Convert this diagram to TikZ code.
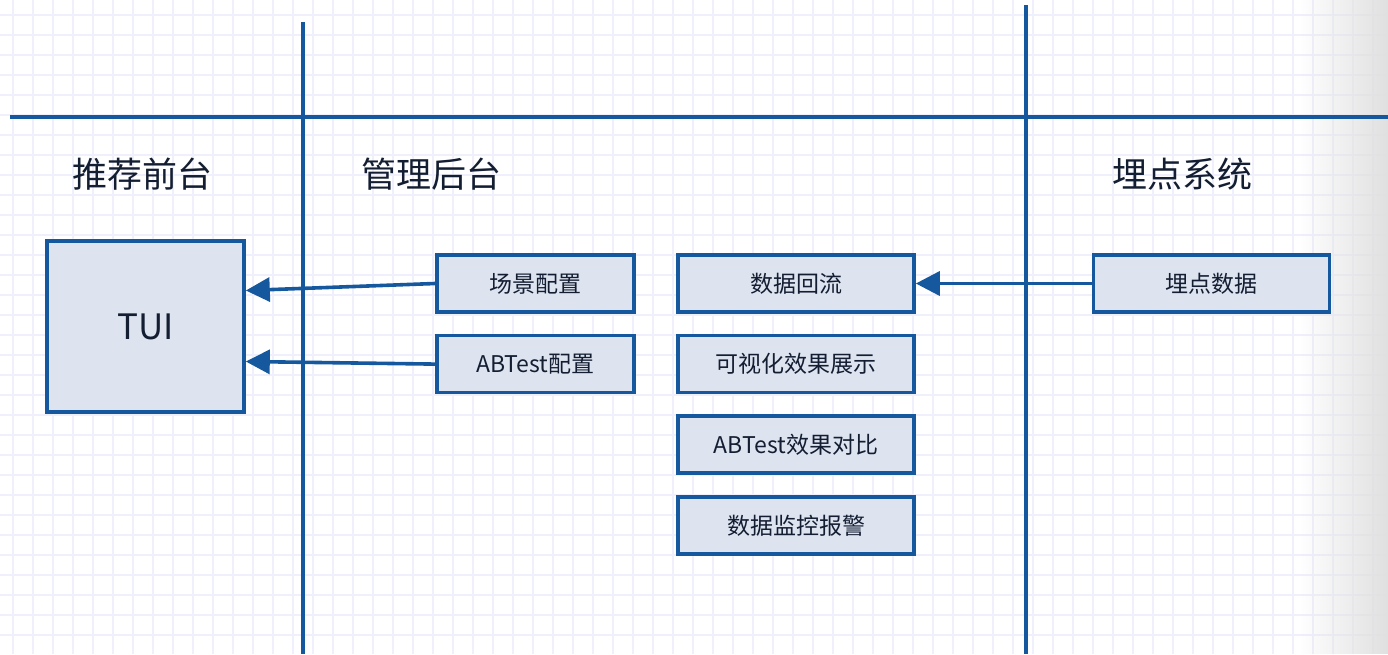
\documentclass[tikz,border=0pt]{standalone}
\usepackage{fontspec}
\setmainfont{Noto Sans CJK SC}
\usetikzlibrary{arrows.meta,positioning,fadings}
\definecolor{cline}{RGB}{22,88,158}
\definecolor{cfill}{RGB}{221,228,240}
\definecolor{cgrid}{RGB}{240,240,252}
\definecolor{ctext}{RGB}{20,30,50}
\tikzfading[name=fade in right, left color=transparent!100, right color=transparent!0]

\begin{document}
\begin{tikzpicture}[
  x=0.5pt, y=-0.5pt,
  font=\fontsize{11.5}{14}\selectfont, text=ctext,
  box/.style={draw=cline, fill=cfill, line width=1.8pt, minimum width=98.5pt, minimum height=28.5pt, inner sep=2pt},
  wbox/.style={box, minimum width=118pt},
  lane/.style={cline, line width=2pt},
  gridline/.style={cgrid, line width=0.7pt},
  title/.style={font=\fontsize{17.5}{20}\selectfont},
  ar/.style={-{Triangle[length=12pt,width=12pt]}, cline, line width=1.8pt},
]
\useasboundingbox (0,0) rectangle (1388,654);
% ---- paper with grid ----
\fill[white] (0,0) rectangle (1388,654);
\foreach \gx in {13,33,...,1388} \draw[gridline] (\gx,0) -- (\gx,654);
\foreach \gy in {15,35,...,654} \draw[gridline] (0,\gy) -- (1388,\gy);
\fill[black!12, path fading=fade in right] (1300,0) rectangle (1388,654);

% ---- swimlanes ----
\coordinate (hl) at (10,117);
\coordinate (hr) at (1388,117);
\coordinate (v1t) at (303,22);
\coordinate (v1b) at (303,654);
\coordinate (v2t) at (1026,5);
\coordinate (v2b) at (1026,654);
\draw[lane] (hl) -- (hr);
\draw[lane] (v1t) -- (v1b);
\draw[lane] (v2t) -- (v2b);
\node[title] (front) at (142,174) {推荐前台};
\node[title] (admin) at (431,174) {管理后台};
\node[title] (track) at (1182,174) {埋点系统};

% ---- front end ----
\node[box, minimum height=85.5pt, font=\fontsize{17.5}{20}\selectfont] (tui) at (145.5,326.5) {TUI};

% ---- admin ----
\node[box] (scene) at (535.5,283.5) {场景配置};
\node[box, below=10pt of scene] (abcfg) {ABTest配置};
\node[wbox] (flow) at (796,283.5) {数据回流};
\node[wbox, below=10pt of flow] (vis) {可视化效果展示};
\node[wbox, below=10pt of vis] (abcmp) {ABTest效果对比};
\node[wbox, below=10pt of abcmp] (mon) {数据监控报警};

% ---- tracking ----
\node[wbox] (tdata) at (1211.5,283.5) {埋点数据};

% ---- arrows ----
\draw[ar] (scene.west) -- ([yshift=18pt]tui.east);
\draw[ar] (abcfg.west) -- ([yshift=-17.5pt]tui.east);
\draw[ar] (tdata) -- (flow);
\end{tikzpicture}
\end{document}
